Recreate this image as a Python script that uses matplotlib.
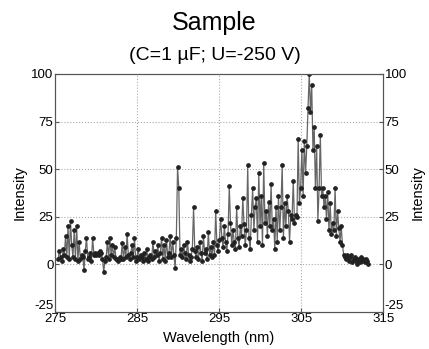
import numpy as np
import matplotlib.pyplot as plt

plt.rcParams['font.family'] = ['Liberation Sans', 'DejaVu Sans']
plt.rcParams['axes.unicode_minus'] = False

# Wartosci (krok 0.15 nm od 275.4 nm)
start_nm = 275.4
step_nm = 0.15
intensity = [
    3, 7, 4, 2, 8, 5, 15, 4, 20, 3, 23, 10, 4, 18, 3, 20, 2, 12, 3, 5,
    4, -3, 7, 14, 3, 4, 6, 2, 14, 5, 6, 5, 6, 5, 7, 6, 3, -4, 2, 4,
    12, 3, 14, 5, 10, 4, 9, 3, 3, 2, 4, 3, 11, 3, 9, 4, 16, 5, 3, 6,
    10, 4, 14, 2, 4, 8, 3, 5, 4, 2, 6, 3, 8, 2, 4, 5, 3, 12, 4, 7,
    5, 10, 2, 6, 14, 3, 10, 2, 13, 4, 6, 15, 4, 12, 5, -2, 14, 51, 40, 5,
    8, 4, 10, 6, 3, 12, 5, 2, 4, 8, 30, 7, 4, 9, 3, 12, 6, 2, 15, 6,
    8, 3, 17, 5, 9, 4, 12, 5, 28, 10, 7, 13, 24, 14, 9, 20, 12, 7, 16, 41,
    22, 10, 18, 12, 8, 30, 14, 9, 20, 15, 35, 21, 10, 18, 52, 14, 8, 26, 40, 18,
    30, 35, 12, 48, 20, 36, 10, 53, 22, 28, 15, 33, 20, 42, 18, 24, 8, 30, 12, 36,
    18, 30, 52, 14, 32, 20, 36, 28, 12, 26, 24, 44, 22, 26, 25, 66, 32, 40, 60, 36,
    65, 48, 62, 82, 100, 80, 94, 60, 72, 40, 62, 23, 40, 68, 36, 40, 30, 36, 24, 38,
    18, 32, 16, 22, 18, 40, 15, 28, 19, 12, 20, 10, 5, 4, 3, 5, 2, 4, 5, 1,
    3, 4, 2, 0, 3, 1, 4, 2, 3, 1, 3, 2, 0,
]
wavelength = start_nm + step_nm * np.arange(len(intensity))

x_ticks = [275, 285, 295, 305, 315]
y_ticks = [-25, 0, 25, 50, 75, 100]

fig = plt.figure(figsize=(4.29, 3.49), dpi=100)
ax = fig.add_axes([0.128, 0.106, 0.765, 0.682])

ax.plot(wavelength, intensity, color='#666666', lw=0.9, marker='o',
        markersize=2.4, markerfacecolor='#222222', markeredgecolor='#222222')

ax.set_xlim(275, 315)
ax.set_ylim(-25, 100)
ax.set_xticks(x_ticks)
ax.set_yticks(y_ticks)
for v in [285, 295, 305]:
    ax.axvline(v, color='#aaaaaa', ls=':', lw=0.8, zorder=0)
for v in [0, 25, 50, 75]:
    ax.axhline(v, color='#aaaaaa', ls=':', lw=0.8, zorder=0)

ax.tick_params(direction='in', length=3, labelsize=9.5, pad=1, color='#555555')
for s in ax.spines.values():
    s.set_color('#555555')
    s.set_linewidth(0.8)
ax.set_xlabel('Wavelength (nm)', fontsize=10.5, labelpad=4)
ax.set_ylabel('Intensity', fontsize=10.5, labelpad=3)

ax2 = ax.twinx()
ax2.set_ylim(-25, 100)
ax2.set_yticks(y_ticks)
ax2.tick_params(direction='in', length=3, labelsize=9.5, pad=1, color='#555555')
for s in ax2.spines.values():
    s.set_color('#555555')
    s.set_linewidth(0.8)
ax2.set_ylabel('Intensity', fontsize=10.5, labelpad=3)

# -25 podniesione nad os, jak w oryginale
fig.canvas.draw()
for a in (ax, ax2):
    a.get_yticklabels()[0].set_verticalalignment('bottom')

fig.text(0.5, 0.935, 'Sample', ha='center', va='center', fontsize=18)
fig.text(0.5, 0.842, '(C=1 µF; U=-250 V)', ha='center', va='center', fontsize=14)

fig.savefig('out.png', dpi=100)
